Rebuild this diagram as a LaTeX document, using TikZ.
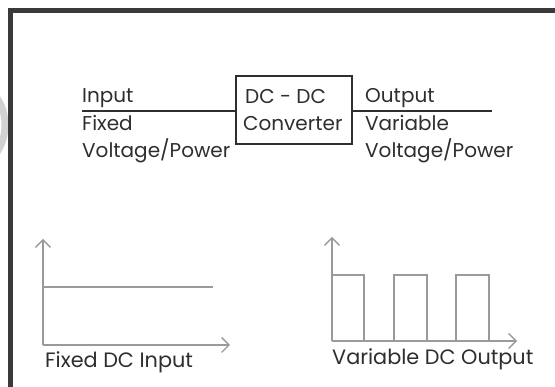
\documentclass[tikz,border=0pt]{standalone}
\usepackage{fontspec}
\setmainfont{Poppins}
\usetikzlibrary{arrows.meta}
\definecolor{frame}{HTML}{3A3A3A}
\definecolor{ink}{HTML}{2E2E2E}
\definecolor{axis}{HTML}{9A9A9A}
\definecolor{ghost}{HTML}{D2D2D2}
\tikzset{
  lbl/.style={anchor=base west, inner sep=0pt, text=ink, font=\fontsize{20}{24}\selectfont},
  caption/.style={lbl, font=\fontsize{20.8}{24}\selectfont},
  wire/.style={line width=2pt, draw=ink},
  ax/.style={line width=1.4pt, draw=axis, -{Straight Barb[length=7.5pt,width=15pt,line width=1.4pt]}},
  sig/.style={line width=1.4pt, draw=axis}
}
\begin{document}
\begin{tikzpicture}[x=1pt,y=-1pt]
\useasboundingbox (0,0) rectangle (555,387);
\fill[white] (0,0) rectangle (555,387);
% ghost watermark at the left edge
\begin{scope}
\clip (0,0) rectangle (8,387);
\draw[ghost, line width=7pt] (-45,125) circle (50);
\end{scope}
% frame
\draw[frame, line width=5pt] (555,10.5) -- (10.5,10.5) -- (10.5,387);
% converter
\node[draw=ink, line width=2pt, minimum width=116pt, minimum height=68pt, inner sep=0pt] (conv) at (294,110) {};
\coordinate (inL) at (82,111);
\coordinate (outR) at (492,111);
\draw[wire] (inL) -- (inL -| conv.west);
\draw[wire] (outR -| conv.east) -- (outR);
\node[lbl] (dc) at (245,104) {DC - DC};
\node[lbl] (cv) at (243,131) {Converter};
\node[lbl] (in1) at (82,103) {Input};
\node[lbl] (in2) at (82,131) {Fixed};
\node[lbl] (in3) at (82,158) {Voltage/Power};
\node[lbl] (out1) at (365,103) {Output};
\node[lbl] (out2) at (365,131) {Variable};
\node[lbl] (out3) at (365,158) {Voltage/Power};
% fixed DC graph
\coordinate (o1) at (43,345);
\coordinate (y1) at (43,239);
\coordinate (x1) at (230,345);
\draw[ax] (o1) -- (y1);
\draw[ax] (o1) -- (x1);
\coordinate (f1) at (43,287);
\coordinate (f2) at (213,287);
\draw[sig] (f1) -- (f2);
\node[caption] (capA) at (45,368) {Fixed DC Input};
% variable DC graph
\coordinate (o2) at (332,341);
\coordinate (y2) at (332,237);
\coordinate (x2) at (517,341);
\draw[ax] (o2) -- (y2);
\draw[ax] (o2) -- (x2);
\draw[sig] (332,341) |- (364,275) -- (364,341);
\draw[sig] (394,341) |- (427,275) -- (427,341);
\draw[sig] (456,341) |- (489,275) -- (489,341);
\node[caption] (capB) at (332,365) {Variable DC Output};
\end{tikzpicture}
\end{document}
